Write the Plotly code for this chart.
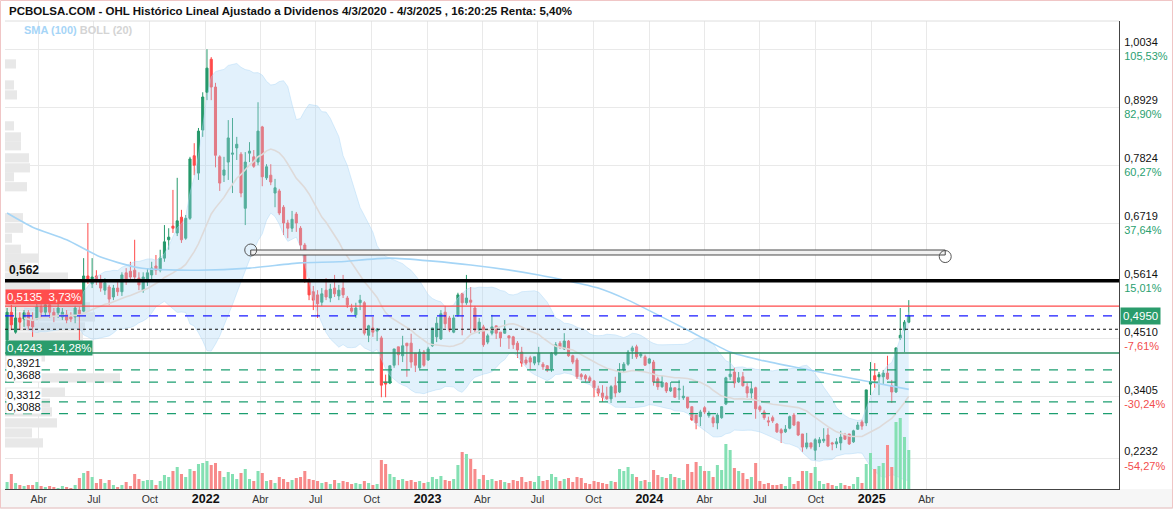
import plotly.graph_objects as go
import pandas as pd

# ---------------- data (weekly OHLC) ----------------
start_week = "2021-02-08"
opens = [.449,.502,.464,.491,.489,.501,.487,.491,.512,.502,.516,.502,.501,.493,.497,.493,.493,.506,.504,.571,
         .556,.571,.561,.544,.550,.531,.548,.541,.577,.580,.582,.567,.544,.560,.573,.590,.582,.605,.640,.666,
         .653,.683,.643,.681,.800,.767,.849,.921,.984,.931,.798,.763,.788,.803,.815,.803,.700,.805,.798,.788,
         .855,.758,.763,.729,.733,.702,.672,.662,.689,.662,.630,.563,.541,.535,.521,.544,.529,.548,.533,.548,
         .529,.510,.497,.520,.520,.458,.472,.466,.453,.369,.367,.401,.436,.419,.443,.443,.424,.396,.426,.411,
         .438,.455,.451,.502,.491,.464,.497,.537,.520,.525,.510,.468,.474,.445,.462,.476,.464,.462,.457,.455,
         .443,.426,.411,.415,.405,.407,.403,.400,.394,.421,.443,.432,.447,.419,.411,.383,.381,.377,.371,.356,
         .348,.342,.337,.362,.350,.392,.403,.428,.436,.419,.417,.405,.407,.375,.360,.367,.352,.358,.354,.339,
         .340,.322,.306,.303,.320,.305,.301,.291,.301,.327,.379,.388,.369,.379,.360,.348,.358,.322,.312,.295,
         .301,.289,.278,.274,.281,.306,.293,.270,.245,.253,.239,.253,.257,.268,.253,.251,.253,.268,.270,.255,
         .279,.293,.291,.365,.381,.379,.379,.386,.362,.350,.453,.468,.483]
highs = [.510,.516,.512,.502,.506,.506,.502,.520,.525,.529,.525,.510,.518,.510,.506,.502,.514,.512,.605,.672,
         .605,.582,.573,.567,.554,.554,.560,.578,.586,.598,.640,.578,.578,.586,.598,.611,.621,.668,.662,.735,
         .758,.697,.687,.798,.824,.853,.921,1.003,.988,.939,.801,.798,.868,.872,.836,.807,.807,.826,.811,.902,
         .857,.784,.784,.756,.737,.706,.678,.695,.693,.666,.634,.567,.552,.544,.548,.567,.556,.573,.554,.573,
         .533,.518,.520,.535,.523,.478,.493,.472,.457,.383,.400,.432,.436,.457,.443,.461,.424,.432,.430,.436,
         .472,.493,.506,.514,.495,.497,.539,.539,.573,.550,.514,.491,.478,.461,.497,.476,.464,.487,.457,.457,
         .447,.436,.417,.419,.417,.436,.407,.401,.426,.445,.447,.462,.449,.421,.415,.386,.384,.381,.373,.362,
         .363,.360,.363,.379,.405,.407,.430,.438,.440,.426,.421,.415,.411,.379,.381,.369,.369,.358,.373,.362,
         .340,.322,.306,.316,.323,.314,.305,.310,.323,.379,.424,.396,.388,.388,.367,.369,.360,.325,.316,.303,
         .305,.291,.281,.287,.305,.310,.293,.270,.272,.253,.262,.264,.281,.281,.255,.262,.276,.272,.270,.278,
         .293,.297,.354,.407,.405,.388,.392,.419,.373,.434,.510,.487,.525]
lows = [.445,.468,.461,.468,.474,.468,.455,.487,.491,.495,.491,.483,.491,.487,.481,.483,.481,.449,.502,.556,
        .548,.554,.541,.535,.516,.525,.533,.533,.554,.563,.563,.544,.539,.552,.563,.573,.578,.598,.621,.653,
        .647,.634,.640,.678,.763,.754,.836,.906,.906,.778,.733,.750,.754,.729,.792,.721,.668,.788,.777,.782,
        .742,.754,.744,.702,.687,.649,.643,.655,.655,.621,.558,.525,.506,.491,.514,.525,.521,.531,.525,.529,
        .510,.501,.491,.506,.458,.445,.455,.447,.340,.340,.365,.396,.401,.407,.379,.396,.388,.394,.398,.409,
        .436,.445,.449,.472,.464,.462,.493,.458,.516,.462,.464,.461,.436,.441,.458,.451,.436,.461,.432,.432,
        .415,.398,.401,.392,.401,.401,.392,.388,.388,.419,.432,.430,.417,.403,.375,.373,.369,.367,.340,.342,
        .331,.335,.329,.340,.348,.388,.400,.413,.413,.415,.400,.403,.362,.354,.358,.348,.350,.339,.335,.335,
        .318,.295,.279,.285,.308,.301,.283,.279,.299,.325,.373,.358,.367,.360,.339,.335,.299,.312,.297,.285,
        .291,.272,.253,.272,.279,.285,.266,.236,.241,.241,.220,.245,.253,.245,.239,.243,.239,.259,.249,.253,
        .278,.278,.285,.344,.358,.344,.365,.373,.329,.348,.449,.426,.481]
closes = [.502,.478,.491,.483,.501,.476,.474,.512,.502,.516,.502,.495,.510,.502,.487,.489,.510,.499,.571,.561,
          .569,.561,.548,.558,.527,.548,.541,.573,.560,.569,.569,.554,.569,.577,.586,.582,.605,.636,.645,.662,
          .676,.640,.681,.794,.782,.847,.912,.967,.931,.801,.748,.773,.834,.805,.822,.729,.788,.809,.780,.847,
          .760,.779,.750,.739,.691,.672,.662,.679,.672,.630,.563,.535,.525,.518,.537,.531,.546,.537,.544,.535,
          .516,.504,.510,.525,.462,.476,.464,.470,.363,.365,.400,.432,.421,.438,.438,.407,.401,.426,.401,.432,
          .472,.481,.499,.480,.468,.491,.535,.520,.529,.521,.468,.483,.440,.457,.474,.462,.453,.470,.453,.440,
          .430,.405,.405,.407,.417,.424,.398,.392,.424,.440,.436,.447,.419,.407,.379,.379,.375,.371,.358,.348,
          .340,.337,.360,.348,.388,.403,.426,.434,.417,.422,.401,.413,.369,.360,.369,.352,.358,.340,.356,.342,
          .320,.297,.291,.312,.312,.310,.291,.306,.322,.377,.384,.367,.377,.362,.348,.356,.318,.316,.301,.293,
          .295,.274,.272,.279,.303,.287,.268,.245,.253,.245,.259,.259,.260,.247,.251,.255,.264,.260,.251,.276,
          .287,.285,.354,.369,.373,.383,.386,.375,.350,.434,.458,.483,.495]
volumes = [7,15,6,4,3,4,4,7,3,2,3,2,1,3,2,1,4,11,16,18,
           12,6,10,6,9,4,2,4,7,3,15,10,8,9,9,4,8,14,12,18,
           22,15,12,20,18,25,26,28,24,26,18,12,17,15,10,16,20,10,8,18,
           16,8,9,6,12,10,7,9,11,12,18,10,9,8,6,7,5,9,6,8,
           7,5,6,5,8,6,4,5,29,25,15,12,9,10,8,9,7,8,6,7,
           12,10,13,9,8,10,24,37,35,30,20,10,14,9,10,8,9,7,6,9,
           8,12,7,8,7,13,8,9,15,12,8,10,11,7,12,11,6,5,8,7,
           6,5,8,7,20,18,22,15,12,8,9,7,19,14,12,11,15,12,11,9,
           25,17,27,23,18,18,12,24,19,45,39,21,18,16,10,12,26,8,5,6,
           4,4,5,3,12,5,8,18,18,16,22,8,5,6,4,3,6,4,3,5,
           12,6,25,36,20,23,26,44,22,67,71,52,39]

# SMA(100) line (week index, value)
sma_week = [0, 6, 14, 22, 30, 34, 45, 57, 69, 78, 90, 109, 125, 139, 146, 160, 170, 177, 186, 203, 212]
sma_value = [.691, .664, .640, .607, .588, .584, .582, .586, .596, .598, .605, .592, .573, .548, .525,
             .468, .426, .411, .396, .369, .355]

# left volume-by-price profile
profile_price = [.975, .935, .916, .857, .836, .819, .796, .777, .760, .741, .682, .662, .643, .622, .605,
                 .588, .569, .550, .531, .512, .493, .474, .455, .436, .417, .398, .377, .350, .329, .312,
                 .291, .272, .253]
profile_vol = [11, 9, 12, 9, 16, 16, 24, 25, 9, 22, 18, 18, 7, 16, 33, 20, 63, 45, 80, 85, 90, 80, 78, 70,
               40, 30, 115, 60, 45, 47, 52, 27, 38]

# right axis ticks
axis_ticks = [1.0034, 0.8929, 0.7824, 0.6719, 0.5614, 0.4510, 0.3405, 0.2232]
axis_pcts = ["105,53%", "82,90%", "60,27%", "37,64%", "15,01%", "-7,61%", "-30,24%", "-54,27%"]

# horizontal levels
resistance = 0.562
high_level = 0.5135
high_pct = "3,73%"
low_level = 0.4243
low_pct = "-14,28%"
last_price = 0.4950
prev_level = 0.4695
support_levels = [0.3921, 0.3688, 0.3312, 0.3088]

# drawn channel tool
tool_start = "2022-03-16"
tool_end = "2025-05-02"
tool_lo, tool_hi = 0.611, 0.6205

quarter_dates = ["2021-04-01", "2021-07-01", "2021-10-01", "2022-01-01", "2022-04-01", "2022-07-01",
                 "2022-10-01", "2023-01-01", "2023-04-01", "2023-07-01", "2023-10-01", "2024-01-01",
                 "2024-04-01", "2024-07-01", "2024-10-01", "2025-01-01", "2025-04-01"]
quarter_labels = ["Abr", "Jul", "Oct", "2022", "Abr", "Jul", "Oct", "2023", "Abr", "Jul", "Oct", "2024",
                  "Abr", "Jul", "Oct", "2025", "Abr"]

# ---------------- figure ----------------
GREEN = "#25996b"
RED = "#ff4a4a"
VGREEN = "#84e0b3"
VRED = "#f78a8a"
FONT = "Liberation Sans, Arial, sans-serif"

dates = pd.date_range(start_week, periods=len(closes), freq="7D")
cs = pd.Series(closes)
mid = cs.rolling(20, min_periods=5).mean()
sd = cs.rolling(20, min_periods=5).std(ddof=0)
upper = mid + 2 * sd
lower = mid - 2 * sd
sma_dates = [dates[i] for i in sma_week]

fig = go.Figure()

# base subplot (x, y): volume profile, drawn under everything
fig.add_trace(go.Bar(x=profile_vol, y=profile_price, orientation="h", xaxis="x", yaxis="y",
                     marker=dict(color="#e8e8e8", line=dict(width=0)), width=0.0175, hoverinfo="skip"))

# overlay subplot (x2, y2): volume bars
vcolors = [VGREEN if c >= o else VRED for o, c in zip(opens, closes)]
fig.add_trace(go.Bar(x=dates, y=volumes, xaxis="x2", yaxis="y2", marker=dict(color=vcolors, line=dict(width=0)),
                     width=5 * 86400000, hoverinfo="skip"))

# overlay subplot (x2, y): price
fig.add_trace(go.Scatter(x=dates, y=lower, xaxis="x2", yaxis="y", mode="lines",
                         line=dict(color="rgba(170,214,245,0.55)", width=0.8), hoverinfo="skip"))
fig.add_trace(go.Scatter(x=dates, y=upper, xaxis="x2", yaxis="y", mode="lines",
                         line=dict(color="rgba(170,214,245,0.55)", width=0.8),
                         fill="tonexty", fillcolor="rgba(173,216,245,0.35)", hoverinfo="skip"))
fig.add_trace(go.Scatter(x=dates, y=mid, xaxis="x2", yaxis="y", mode="lines",
                         line=dict(color="#dedad9", width=1.6), hoverinfo="skip"))
fig.add_trace(go.Scatter(x=sma_dates, y=sma_value, xaxis="x2", yaxis="y", mode="lines",
                         line=dict(color="#a5d5f6", width=1.6, shape="spline", smoothing=0.6), hoverinfo="skip"))
fig.add_trace(go.Candlestick(x=dates, open=opens, high=highs, low=lows, close=closes, xaxis="x2", yaxis="y",
                             whiskerwidth=0,
                             increasing=dict(line=dict(color=GREEN, width=1), fillcolor=GREEN),
                             decreasing=dict(line=dict(color=RED, width=1), fillcolor=RED)))

# axes geometry
W, H = 1173, 512
ml, mr, mt, mb = 5, 54, 21, 23
pw, ph = W - ml - mr, H - mt - mb
ytop, ybot = 1.0568, 0.16516


def px_x(p):
    return (p - ml) / pw


def px_y(p):
    return (H - mb - p) / ph


def fmt(v):
    return f"{v:.4f}".replace(".", ",")


ticktext = []
for v, p in zip(axis_ticks, axis_pcts):
    col = "#2a9f70" if not p.startswith("-") else "#f24d4d"
    ticktext.append(f"{fmt(v)}<br><span style='color:{col}'>{p}</span>")

xticktext = [f"<span style='font-size:12.5px;color:#111'><b>{t}</b></span>" if t.isdigit() else t
             for t in quarter_labels]

fig.update_layout(
    width=W, height=H, margin=dict(l=ml, r=mr, t=mt, b=mb),
    paper_bgcolor="white", plot_bgcolor="white", showlegend=False, barmode="overlay",
    font=dict(family=FONT, size=11, color="#222"),
    xaxis=dict(range=[0, pw], visible=False, showgrid=False, zeroline=False, anchor="y",
               rangeslider=dict(visible=False)),
    xaxis2=dict(type="date", overlaying="x", anchor="y", side="bottom",
                range=["2021-02-04 14:00", "2026-02-12"], rangeslider=dict(visible=False),
                tickvals=quarter_dates, ticktext=xticktext, showgrid=True, gridcolor="#e9e9e9", gridwidth=1,
                showline=True, linecolor="#444", linewidth=1, ticks="", tickfont=dict(size=10.5, color="#333"),
                zeroline=False),
    yaxis=dict(range=[ybot, ytop], side="right", anchor="x", tickvals=axis_ticks, ticktext=ticktext,
               showgrid=True, gridcolor="#e9e9e9", showline=True, linecolor="#444", linewidth=1, ticks="",
               tickfont=dict(size=11, color="#111"), zeroline=False, ticklabelstandoff=2),
    yaxis2=dict(range=[0, ph], overlaying="y", anchor="x2", visible=False, fixedrange=True),
)

shapes = []
# bottom axis strip
shapes.append(dict(type="rect", xref="paper", yref="paper", x0=px_x(0), x1=px_x(W), y0=px_y(508), y1=0,
                   fillcolor="#f6f6f6", line=dict(width=0), layer="below"))
shapes.append(dict(type="line", xref="paper", yref="paper", x0=px_x(0), x1=px_x(W), y0=px_y(508), y1=px_y(508),
                   line=dict(color="#dddddd", width=1)))
# top border of plot + outer border
shapes.append(dict(type="line", xref="paper", yref="paper", x0=0, x1=1, y0=1, y1=1,
                   line=dict(color="#dedede", width=1)))
shapes.append(dict(type="rect", xref="paper", yref="paper", x0=px_x(0.5), x1=px_x(W - 0.5), y0=px_y(508),
                   y1=px_y(0.5), line=dict(color="#f0c6c6", width=1), fillcolor="rgba(0,0,0,0)"))


def hline(y, color, width, dash="solid"):
    shapes.append(dict(type="line", xref="paper", yref="y", x0=0, x1=1, y0=y, y1=y,
                       line=dict(color=color, width=width, dash=dash), layer="above"))


for lv in support_levels:
    hline(lv, "#1c9e70", 1.2, "dash")
hline(low_level, "#2c8f62", 1.5)
hline(prev_level, "#111111", 1.2, "dot")
hline(last_price, "#1a1aff", 1.2, "dash")
hline(high_level, "#ff4a4a", 1.2)
hline(resistance, "#000000", 3.5)

# drawn channel tool
shapes.append(dict(type="rect", xref="x2", yref="y", x0=tool_start, x1=tool_end, y0=tool_lo, y1=tool_hi,
                   line=dict(color="#4a4a4a", width=1), fillcolor="#f1f1f1", layer="above"))
for xd, yv in [(tool_start, tool_hi), (tool_end, tool_lo - 0.003)]:
    shapes.append(dict(type="circle", xref="x2", yref="y", xsizemode="pixel", ysizemode="pixel",
                       xanchor=xd, yanchor=yv, x0=-6, x1=6, y0=-6, y1=6,
                       line=dict(color="#555", width=1), fillcolor="rgba(0,0,0,0)", layer="above"))
fig.update_layout(shapes=shapes)

ann = []
ann.append(dict(text="PCBOLSA.COM - OHL Histórico Lineal Ajustado a Dividenos 4/3/2020 - 4/3/2025 , 16:20:25 Renta: 5,40%",
                xref="paper", yref="paper", x=px_x(7), y=px_y(11), xanchor="left", yanchor="middle",
                showarrow=False, font=dict(size=11.5, color="#111", family=FONT, weight="bold")))
ann.append(dict(text="<b><span style='color:#a6d5f7'>SMA (100)</span> <span style='color:#d4d4d4'>BOLL (20)</span></b>",
                xref="paper", yref="paper", x=px_x(22), y=px_y(30), xanchor="left", yanchor="middle",
                showarrow=False, font=dict(size=11)))
ann.append(dict(text="<b>0,562</b>", xref="paper", yref="y", x=px_x(7), y=resistance, xanchor="left",
                yanchor="bottom", yshift=2, showarrow=False, font=dict(size=12, color="#111")))
ann.append(dict(text=f"{fmt(high_level)}\u00a0\u00a0{high_pct}", xref="paper", yref="y", x=0, y=high_level,
                xanchor="left", yanchor="bottom", yshift=1, showarrow=False, bgcolor="#ff4d4d", borderpad=1,
                font=dict(size=11.5, color="white")))
ann.append(dict(text=f"{fmt(low_level)}\u00a0\u00a0{low_pct}", xref="paper", yref="y", x=0, y=low_level,
                xanchor="left", yanchor="top", yshift=13, showarrow=False, bgcolor="#2a9c6c", borderpad=1,
                font=dict(size=11.5, color="white")))
for lv in support_levels:
    ann.append(dict(text=fmt(lv), xref="paper", yref="y", x=px_x(6), y=lv, xanchor="left", yanchor="bottom",
                    yshift=0, showarrow=False, bgcolor="white", borderpad=0, font=dict(size=11, color="#111")))
ann.append(dict(text=fmt(last_price), xref="paper", yref="y", x=1, xshift=1, y=last_price, xanchor="left",
                yanchor="middle", showarrow=False, bgcolor="#2a9c6c", borderpad=2,
                font=dict(size=11.5, color="white")))
fig.update_layout(annotations=ann)

fig.write_html("out.html")
